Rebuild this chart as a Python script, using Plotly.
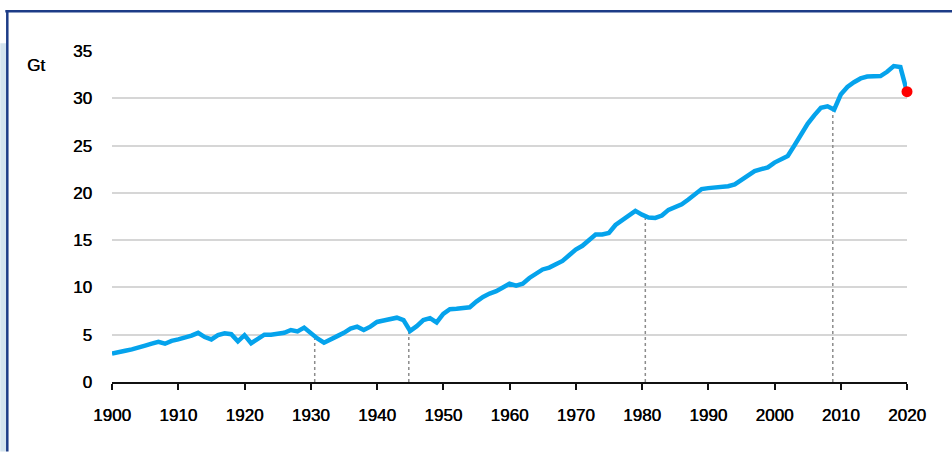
import plotly.graph_objects as go

years = list(range(1900, 2021))
emissions = [
    3.0, 3.1, 3.3, 3.45, 3.6, 3.85, 4.05, 4.25, 4.05, 4.35,   # 1900-1909
    4.5, 4.65, 4.9, 5.2, 4.75, 4.5, 4.95, 5.15, 5.05, 4.3,    # 1910-1919
    4.95, 4.1, 4.5, 5.0, 5.0, 5.1, 5.2, 5.5, 5.35, 5.75,      # 1920-1929
    5.15, 4.6, 4.15, 4.45, 4.85, 5.2, 5.65, 5.85, 5.5, 5.85,  # 1930-1939
    6.35, 6.5, 6.6, 6.8, 6.55, 5.4, 5.9, 6.55, 6.75, 6.3,     # 1940-1949
    7.2, 7.7, 7.75, 7.8, 7.9, 8.5, 9.0, 9.35, 9.6, 10.0,      # 1950-1959
    10.4, 10.2, 10.4, 11.0, 11.5, 11.9, 12.1, 12.4, 12.8, 13.4,  # 1960-1969
    14.0, 14.4, 15.0, 15.6, 15.6, 15.75, 16.6, 17.1, 17.55, 18.1,  # 1970-1979
    17.7, 17.4, 17.35, 17.6, 18.2, 18.5, 18.8, 19.3, 19.9, 20.4,   # 1980-1989
    20.5, 20.55, 20.6, 20.7, 20.9, 21.4, 21.9, 22.3, 22.5, 22.7,   # 1990-1999
    23.2, 23.5, 23.9, 25.0, 26.2, 27.3, 28.2, 29.0, 29.15, 28.8,   # 2000-2009
    30.4, 31.2, 31.7, 32.1, 32.3, 32.3, 32.35, 32.8, 33.4, 33.3,   # 2010-2019
    30.7,                                                           # 2020
]

highlight_year = [2020]
highlight_value = [30.7]

crisis_years = [1930.6, 1944.8, 1980.5, 2008.8]
crisis_tops = [4.6, 5.3, 17.5, 28.6]

x_ticks = list(range(1900, 2021, 10))
y_ticks = [0, 5, 10, 15, 20, 25, 30, 35]
y_unit = "Gt"

FONT = "Liberation Sans, Arial, sans-serif"
TXT = "#000000"
SHADOW = "0.45px 0px 0px #000000"

fig = go.Figure()

# dotted drop lines
for yr, top in zip(crisis_years, crisis_tops):
    fig.add_trace(go.Scatter(
        x=[yr, yr], y=[0, top], mode="lines",
        line=dict(color="#8c8c8c", width=1.5, dash="dot"),
        hoverinfo="skip", showlegend=False))

fig.add_trace(go.Scatter(
    x=years, y=emissions, mode="lines",
    line=dict(color="#05a3ec", width=4.5, shape="linear"),
    showlegend=False))

fig.add_trace(go.Scatter(
    x=highlight_year, y=highlight_value, mode="markers",
    marker=dict(color="#ff0000", size=11),
    cliponaxis=False, showlegend=False))

# plot area: x 111.7..906.7 px, y 50.7..382.3 px
L, R, T, B = 111.7, 906.7, 50.7, 382.3
def px(p):
    return (p - L) / (R - L)
def py(p):
    return (B - p) / (B - T)

shapes = [
    # light blue strip at far left
    dict(type="rect", xref="paper", yref="paper", x0=px(0), x1=px(6),
         y0=py(452), y1=py(43), fillcolor="#d3e3ee", line=dict(width=0), layer="below"),
    # navy frame: top and left
    dict(type="line", xref="paper", yref="paper", x0=px(5), x1=px(952),
         y0=py(11), y1=py(11), line=dict(color="#1d3c87", width=2.5)),
    dict(type="line", xref="paper", yref="paper", x0=px(7), x1=px(7),
         y0=py(10), y1=py(452), line=dict(color="#1d3c87", width=2.5)),
]

fig.update_layout(
    width=952, height=452,
    margin=dict(l=112, r=45, t=51, b=70),
    paper_bgcolor="white", plot_bgcolor="white",
    font=dict(family=FONT, size=17, color=TXT),
    shapes=shapes,
    annotations=[dict(text=y_unit, xref="paper", yref="paper",
                      x=px(36), y=py(65), xanchor="center", yanchor="middle",
                      showarrow=False,
                      font=dict(family=FONT, size=17, color=TXT, shadow=SHADOW))],
)

fig.update_xaxes(
    range=[1900, 2020], tickvals=x_ticks, ticktext=[str(t) for t in x_ticks],
    showgrid=False, zeroline=False,
    showline=True, linecolor="#111111", linewidth=2,
    ticks="outside", ticklen=6, tickwidth=2, tickcolor="#111111",
    ticklabelstandoff=11,
    tickfont=dict(family=FONT, size=17, color=TXT, shadow=SHADOW),
)
fig.update_yaxes(
    range=[0, 35], tickvals=y_ticks,
    showgrid=True, gridcolor="#d6d6d6", gridwidth=1.5,
    zeroline=False, showline=False, ticks="",
    ticklabelstandoff=19,
    tickfont=dict(family=FONT, size=17, color=TXT, shadow=SHADOW),
)

fig.write_html("out.html", config={"displayModeBar": False},
               post_script="document.body.style.margin='0px';")
